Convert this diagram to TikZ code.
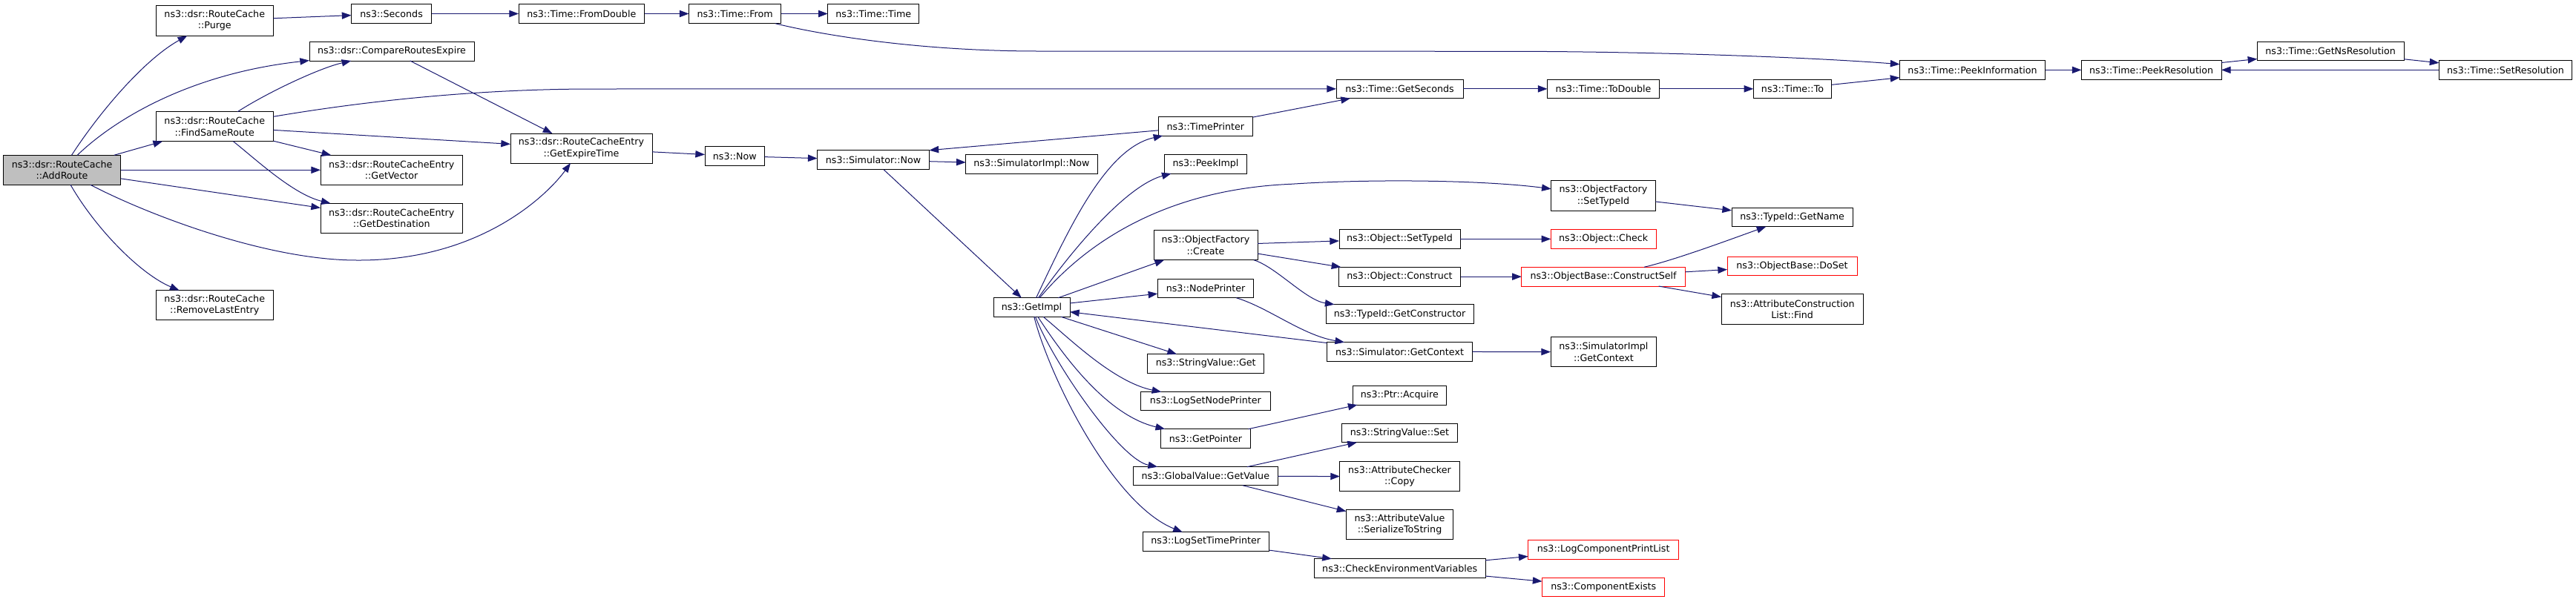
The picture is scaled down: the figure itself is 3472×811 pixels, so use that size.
\documentclass[tikz,border=0pt]{standalone}
\usepackage{fontspec}
\setmainfont{DejaVu Sans}
\usetikzlibrary{arrows.meta}
\definecolor{edgecol}{HTML}{191970}
\definecolor{rootfill}{HTML}{BFBFBF}
\tikzset{
  box/.style={draw=black, fill=white, line width=0.75pt, inner sep=0pt, outer sep=0pt,
    align=center, font=\fontsize{9.5pt}{11.5pt}\selectfont},
  rootbox/.style={fill=rootfill},
  redbox/.style={draw=red},
  plainbox/.style={},
  edge/.style={draw=edgecol, line width=0.75pt, -{Triangle[length=9.5pt,width=7pt]}}
}
\newcommand{\bx}[7]{%
  \pgfmathsetmacro{\bxw}{(#4-#2)*0.75}%
  \pgfmathsetmacro{\bxh}{(#5-#3)*0.75}%
  \node[box,#6,minimum width=\bxw pt,minimum height=\bxh pt] (#1) at ({(#2+#4)/2},{(#3+#5)/2}) {#7};}
\begin{document}
\begin{tikzpicture}[x=0.75pt,y=-0.75pt]
\useasboundingbox (0,0) rectangle (3472,811);
% nodes
\bx{AddRoute}{4.4}{209.3}{162.8}{249.3}{rootbox}{ns3::dsr::RouteCache\\::AddRoute}
\bx{Purge}{210}{7.3}{368.5}{48.3}{plainbox}{ns3::dsr::RouteCache\\::Purge}
\bx{Seconds}{473.5}{5.3}{581.8}{31.7}{plainbox}{ns3::Seconds}
\bx{CRE}{417}{56.7}{639}{82}{plainbox}{ns3::dsr::CompareRoutesExpire}
\bx{FSR}{210}{150.7}{368.5}{190.7}{plainbox}{ns3::dsr::RouteCache\\::FindSameRoute}
\bx{GetVector}{432}{209.3}{623.3}{249.3}{plainbox}{ns3::dsr::RouteCacheEntry\\::GetVector}
\bx{GetDest}{432}{274.3}{623.3}{314.3}{plainbox}{ns3::dsr::RouteCacheEntry\\::GetDestination}
\bx{RLE}{210}{391.7}{368.5}{431.7}{plainbox}{ns3::dsr::RouteCache\\::RemoveLastEntry}
\bx{FromDouble}{699}{5.3}{868.6}{31.7}{plainbox}{ns3::Time::FromDouble}
\bx{TFrom}{928.5}{5.3}{1052.8}{31.7}{plainbox}{ns3::Time::From}
\bx{TTime}{1115.7}{5.3}{1238.8}{31.7}{plainbox}{ns3::Time::Time}
\bx{GET}{688}{180}{879}{220}{plainbox}{ns3::dsr::RouteCacheEntry\\::GetExpireTime}
\bx{Now}{950}{197.7}{1030.6}{223.3}{plainbox}{ns3::Now}
\bx{SimNow}{1101.6}{202.7}{1252.5}{228.7}{plainbox}{ns3::Simulator::Now}
\bx{TimePrinter}{1561.4}{157.7}{1688.3}{183}{plainbox}{ns3::TimePrinter}
\bx{SimImplNow}{1301.7}{208.7}{1479.3}{234}{plainbox}{ns3::SimulatorImpl::Now}
\bx{PeekImpl}{1569.5}{208.7}{1680.5}{234}{plainbox}{ns3::PeekImpl}
\bx{Create}{1555}{310.7}{1695}{350.7}{plainbox}{ns3::ObjectFactory\\::Create}
\bx{NodePrinter}{1560.3}{376.7}{1689.8}{401.7}{plainbox}{ns3::NodePrinter}
\bx{GetImpl}{1339}{401.7}{1442}{427.3}{plainbox}{ns3::GetImpl}
\bx{SVGet}{1546.6}{477.7}{1703.8}{503}{plainbox}{ns3::StringValue::Get}
\bx{LSNP}{1537.4}{528.7}{1712.4}{553.7}{plainbox}{ns3::LogSetNodePrinter}
\bx{GetPointer}{1564.4}{578.7}{1685.7}{604.3}{plainbox}{ns3::GetPointer}
\bx{GetValue}{1527.4}{629.7}{1722.3}{654.7}{plainbox}{ns3::GlobalValue::GetValue}
\bx{LSTP}{1540}{717.7}{1710.5}{743}{plainbox}{ns3::LogSetTimePrinter}
\bx{GetSeconds}{1801}{107}{1972}{132.7}{plainbox}{ns3::Time::GetSeconds}
\bx{ToDouble}{2085.5}{107}{2236.5}{132.7}{plainbox}{ns3::Time::ToDouble}
\bx{FST}{2090.7}{243.7}{2231.3}{284}{plainbox}{ns3::ObjectFactory\\::SetTypeId}
\bx{OSTI}{1805}{309.7}{1968}{335}{plainbox}{ns3::Object::SetTypeId}
\bx{Check}{2090.3}{309.7}{2232}{335}{redbox}{ns3::Object::Check}
\bx{Construct}{1804.4}{360.3}{1968.6}{386}{plainbox}{ns3::Object::Construct}
\bx{CSelf}{2050.8}{360.3}{2271.3}{386}{redbox}{ns3::ObjectBase::ConstructSelf}
\bx{GetCtor}{1787}{410.7}{1986}{436.7}{plainbox}{ns3::TypeId::GetConstructor}
\bx{GetCtx}{1788.5}{461.7}{1984.5}{487}{plainbox}{ns3::Simulator::GetContext}
\bx{ImplCtx}{2090}{454.7}{2232.8}{494.7}{plainbox}{ns3::SimulatorImpl\\::GetContext}
\bx{Acquire}{1823}{520.7}{1949.8}{546}{plainbox}{ns3::Ptr::Acquire}
\bx{SVSet}{1808.4}{571}{1964.6}{596.7}{plainbox}{ns3::StringValue::Set}
\bx{Copy}{1805.9}{622.7}{1967}{662.7}{plainbox}{ns3::AttributeChecker\\::Copy}
\bx{Serialize}{1814.4}{687.7}{1958.6}{727.7}{plainbox}{ns3::AttributeValue\\::SerializeToString}
\bx{CheckEnv}{1771.4}{753.7}{2002}{779}{plainbox}{ns3::CheckEnvironmentVariables}
\bx{LCPL}{2059.6}{728.3}{2262.7}{754}{redbox}{ns3::LogComponentPrintList}
\bx{CompEx}{2078.5}{779.3}{2243.9}{804.3}{redbox}{ns3::ComponentExists}
\bx{TTo}{2363.3}{107}{2468.7}{132.7}{plainbox}{ns3::Time::To}
\bx{PeekInfo}{2560.5}{81.7}{2756.6}{107}{plainbox}{ns3::Time::PeekInformation}
\bx{PeekRes}{2805.4}{81.7}{2994}{107}{plainbox}{ns3::Time::PeekResolution}
\bx{GetName}{2334}{280.7}{2497.2}{305.7}{plainbox}{ns3::TypeId::GetName}
\bx{DoSet}{2328}{346}{2503}{371}{redbox}{ns3::ObjectBase::DoSet}
\bx{Find}{2320}{396.7}{2511.3}{437.3}{plainbox}{ns3::AttributeConstruction\\List::Find}
\bx{GetNsRes}{3042.3}{56.7}{3240}{81.7}{plainbox}{ns3::Time::GetNsResolution}
\bx{SetRes}{3287.4}{81.7}{3466.6}{107}{plainbox}{ns3::Time::SetResolution}
% edges
\draw[edge] (AddRoute) .. controls (135,150) and (195,80) .. (Purge);
\draw[edge] (AddRoute) .. controls (150,165) and (250,100) .. (CRE);
\draw[edge] (AddRoute) -- (FSR);
\draw[edge] (AddRoute) -- (GetVector);
\draw[edge] (AddRoute) -- (GetDest);
\draw[edge] (AddRoute) .. controls (200,290) and (360,351) .. (481,351) .. controls (650,352) and (740,260) .. (GET);
\draw[edge] (AddRoute) .. controls (130,310) and (190,370) .. (RLE);
\draw[edge] (Purge) -- (Seconds);
\draw[edge] (FSR) .. controls (360,125) and (430,92) .. (CRE);
\draw[edge] (FSR) .. controls (500,135) and (650,120) .. (800,120) -- (GetSeconds);
\draw[edge] (FSR) -- (GET);
\draw[edge] (FSR) -- (GetVector);
\draw[edge] (FSR) .. controls (345,215) and (395,262) .. (GetDest);
\draw[edge] (CRE) -- (GET);
\draw[edge] (Seconds) -- (FromDouble);
\draw[edge] (FromDouble) -- (TFrom);
\draw[edge] (TFrom) -- (TTime);
\draw[edge] (TFrom) .. controls (1120,50) and (1250,69) .. (1400,69) -- (2050,69.3) .. controls (2250,70) and (2450,78) .. (PeekInfo);
\draw[edge] (GET) -- (Now);
\draw[edge] (Now) -- (SimNow);
\draw[edge] (SimNow) -- (SimImplNow);
\draw[edge] (SimNow) -- (GetImpl);
\draw[edge] (TimePrinter) -- (SimNow.north east);
\draw[edge] (TimePrinter) -- (GetSeconds);
\draw[edge] (GetImpl) .. controls (1440,310) and (1490,200) .. (TimePrinter);
\draw[edge] (GetImpl) .. controls (1450,330) and (1520,250) .. (PeekImpl);
\draw[edge] (GetImpl) .. controls (1470,320) and (1580,255) .. (1740,248.3) .. controls (1850,241) and (2000,243) .. (FST);
\draw[edge] (GetImpl) -- (Create);
\draw[edge] (GetImpl) -- (NodePrinter);
\draw[edge] (NodePrinter) .. controls (1710,415) and (1755,452) .. (GetCtx);
\draw[edge] (GetCtx) -- (GetImpl);
\draw[edge] (GetImpl) -- (SVGet);
\draw[edge] (GetImpl) .. controls (1440,455) and (1500,515) .. (LSNP);
\draw[edge] (GetImpl) .. controls (1430,475) and (1490,560) .. (GetPointer);
\draw[edge] (GetImpl) .. controls (1420,490) and (1510,620) .. (GetValue);
\draw[edge] (GetImpl) .. controls (1415,510) and (1500,680) .. (LSTP);
\draw[edge] (Create) -- (OSTI);
\draw[edge] (Create) -- (Construct);
\draw[edge] (Create) .. controls (1720,360) and (1760,405) .. (GetCtor);
\draw[edge] (FST) -- (GetName);
\draw[edge] (OSTI) -- (Check);
\draw[edge] (Construct) -- (CSelf);
\draw[edge] (CSelf) .. controls (2260,350) and (2340,320) .. (GetName);
\draw[edge] (CSelf) -- (DoSet);
\draw[edge] (CSelf) -- (Find);
\draw[edge] (GetCtx) -- (ImplCtx);
\draw[edge] (GetPointer) -- (Acquire);
\draw[edge] (GetValue) -- (SVSet);
\draw[edge] (GetValue) -- (Copy);
\draw[edge] (GetValue) -- (Serialize);
\draw[edge] (LSTP) -- (CheckEnv);
\draw[edge] (CheckEnv) -- (LCPL);
\draw[edge] (CheckEnv) -- (CompEx);
\draw[edge] (GetSeconds) -- (ToDouble);
\draw[edge] (ToDouble) -- (TTo);
\draw[edge] (TTo) -- (PeekInfo);
\draw[edge] (PeekInfo) -- (PeekRes);
\draw[edge] (PeekRes) -- (GetNsRes);
\draw[edge] (GetNsRes) -- (SetRes);
\draw[edge] (SetRes) -- (PeekRes);
\end{tikzpicture}
\end{document}
